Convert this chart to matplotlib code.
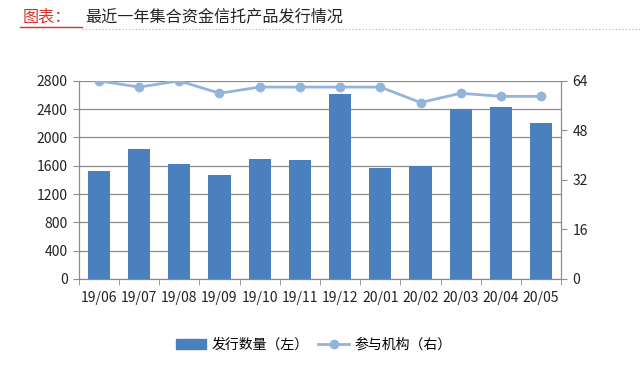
#
# Plotting script - 集合资金信托产品发行情况
#

import numpy as np
import matplotlib.pyplot as plt
from matplotlib.lines import Line2D

plt.rcParams['font.family'] = ['Noto Sans CJK SC', 'DejaVu Sans']

# Data
months = ["19/06", "19/07", "19/08", "19/09", "19/10", "19/11",
          "19/12", "20/01", "20/02", "20/03", "20/04", "20/05"]
issue_count = [1530, 1834, 1626, 1475, 1701, 1683, 2616, 1574, 1593, 2404, 2428, 2211]
institutions = [64, 62, 64, 60, 62, 62, 62, 62, 57, 60, 59, 59]

bar_color = "#4a80bd"
line_color = "#94b4dc"
grid_color = "#8c8c8c"

fig = plt.figure(figsize=(6.4, 3.71), dpi=100)
ax = fig.add_axes([0.123, 0.248, 0.754, 0.534])
ax2 = ax.twinx()

x = np.arange(len(months))
ax.bar(x, issue_count, width=0.55, color=bar_color, zorder=2)
ax.set_ylim(0, 2800)
ax.set_yticks(np.arange(0, 2801, 400))
ax.set_xlim(-0.5, len(months) - 0.5)
ax.set_xticks(x)
ax.set_xticklabels(months)
ax.set_xticks(np.arange(-0.5, len(months), 1), minor=True)
ax.tick_params(axis='x', which='major', length=0, pad=9)
ax.tick_params(axis='x', which='minor', length=4, color=grid_color)
ax.tick_params(axis='y', length=4, color=grid_color, pad=4)
ax.tick_params(labelsize=10, labelcolor="#222222")
ax.grid(axis='y', color=grid_color, linewidth=0.9, zorder=0)
ax.set_axisbelow(True)

ax2.plot(x, institutions, color=line_color, linewidth=2, marker='o', markersize=6, zorder=3)
ax2.set_ylim(0, 64)
ax2.set_yticks(np.arange(0, 65, 16))
ax2.tick_params(axis='y', length=4, color=grid_color, labelsize=10, labelcolor="#222222", pad=4)

for a in (ax, ax2):
    a.spines['top'].set_visible(False)
    for s in ('left', 'right', 'bottom'):
        a.spines[s].set_color(grid_color)

# Legend
handles = [plt.Rectangle((0, 0), 1, 1, color=bar_color),
           Line2D([0], [0], color=line_color, linewidth=2, marker='o', markersize=6)]
fig.legend(handles, ["发行数量（左）", "参与机构（右）"], loc='center',
           bbox_to_anchor=(0.49, 0.07), ncol=2, frameon=False, fontsize=10,
           handlelength=2.2, columnspacing=0.7, handletextpad=0.4)

# Title
fig.text(0.036, 0.954, "图表：", color="#d9312b", fontsize=11.6, va='center')
fig.text(0.133, 0.954, "最近一年集合资金信托产品发行情况", color="#222222", fontsize=11.6, va='center')
fig.add_artist(Line2D([0.031, 0.128], [0.927, 0.927], color="#d9312b", linewidth=1))
fig.add_artist(Line2D([0.128, 1.0], [0.922, 0.922], color="#c99", linewidth=0.8, linestyle=(0, (1, 2))))

plt.savefig("out.png", dpi=100)
